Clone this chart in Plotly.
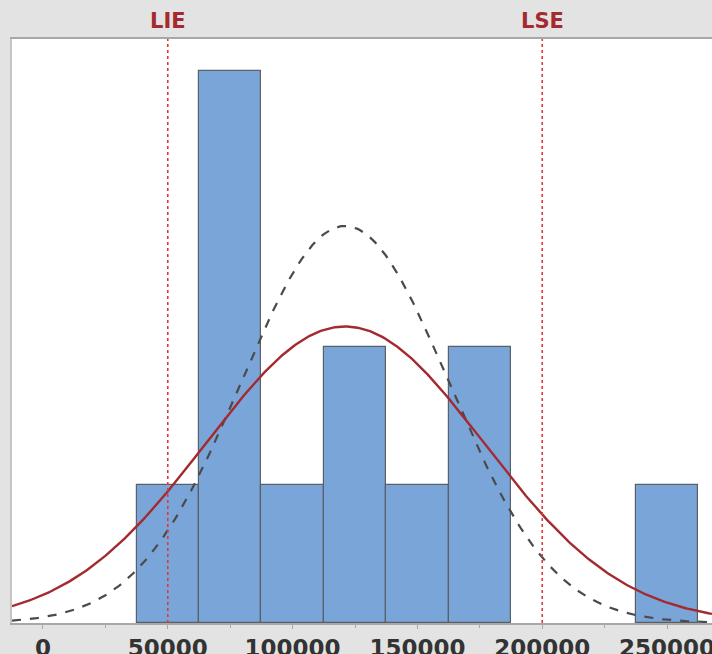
import numpy as np
import plotly.graph_objects as go

# Histogram data (bin centres and counts)
bin_centers = [50000, 75000, 100000, 125000, 150000, 175000, 200000, 225000, 250000]
counts = [1, 4, 1, 2, 1, 2, 0, 0, 1]
bin_width = 25000

# Specification limits
spec_names = ["LIE", "LSE"]
spec_values = [50000, 200000]

# Fitted normal parameters
fit_mean = 121000
sd_overall = 55700
sd_within = 41600
n_obs = sum(counts)

tick_vals = [0, 50000, 100000, 150000, 200000, 250000]
tick_text = ["0", "50000", "100000", "150000", "200000", "250000"]

x_lo, x_hi = -12400, 268000
xs = np.linspace(x_lo, x_hi, 400)


def scaled_pdf(x, mu, sd):
    return n_obs * bin_width * np.exp(-0.5 * ((x - mu) / sd) ** 2) / (sd * np.sqrt(2 * np.pi))


fig = go.Figure()
fig.add_trace(go.Bar(
    x=bin_centers, y=counts, width=bin_width,
    marker=dict(color="#7aa5d8",
                line=dict(color="#5a6068", width=[1.2 if c > 0 else 0 for c in counts])),
    hoverinfo="skip",
))
fig.add_trace(go.Scatter(
    x=xs, y=scaled_pdf(xs, fit_mean, sd_within), mode="lines",
    line=dict(color="#4a4a4a", width=2.2, dash="dash"), hoverinfo="skip",
))
fig.add_trace(go.Scatter(
    x=xs, y=scaled_pdf(xs, fit_mean, sd_overall), mode="lines",
    line=dict(color="#a32a2e", width=2.4), hoverinfo="skip",
))

for name, val in zip(spec_names, spec_values):
    fig.add_shape(type="line", xref="x", yref="paper", x0=val, x1=val, y0=0, y1=1,
                  line=dict(color="#e0383c", width=1.6, dash="dot"), layer="above")
    fig.add_annotation(x=val, xref="x", y=1, yref="paper", yanchor="bottom", yshift=4,
                       text=name, showarrow=False,
                       font=dict(family="DejaVu Sans", size=21, color="#a32a2e", weight="bold"))

fig.update_layout(
    width=712, height=654,
    margin=dict(l=12, r=0, t=39, b=31),
    paper_bgcolor="#e3e3e3", plot_bgcolor="#ffffff",
    showlegend=False, bargap=0,
    xaxis=dict(range=[x_lo, x_hi], tickvals=tick_vals, ticktext=tick_text,
               showgrid=False, zeroline=False, showline=True, linecolor="#a8a8a8",
               linewidth=1.5, mirror=True, ticks="outside", ticklen=4, tickcolor="#a8a8a8",
               minor=dict(tickvals=[25000, 75000, 125000, 175000, 225000], ticks="outside",
                          ticklen=3, tickcolor="#a8a8a8"),
               automargin=False, ticklabeloverflow="allow",
               tickfont=dict(family="DejaVu Sans", size=23, color="#333333", weight="bold")),
    yaxis=dict(range=[0, 4.232], showticklabels=False, showgrid=False, zeroline=False,
               showline=True, linecolor="#c4c4c4", linewidth=2, ticks="", automargin=False),
)

fig.write_html("out.html", config={"displayModeBar": False},
               post_script="document.body.style.margin='0';document.body.style.overflow='hidden';")
